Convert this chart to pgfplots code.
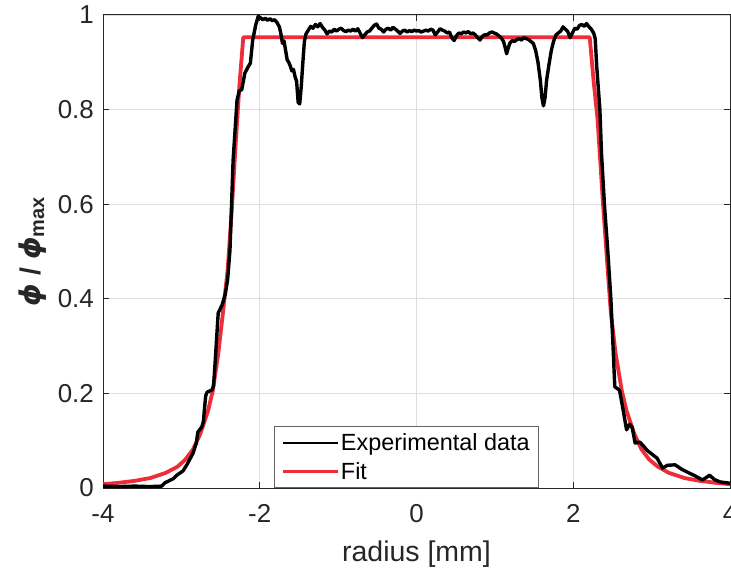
\documentclass[border=0pt]{standalone}
\usepackage{pgfplots}
\pgfplotsset{compat=1.18}
\usepackage{fontspec}
\setmainfont{Liberation Sans}
\newfontfamily\djv{DejaVu Sans}
\definecolor{axgray}{RGB}{38,38,38}
\definecolor{gridgray}{RGB}{222,222,222}
\definecolor{fitred}{RGB}{237,45,58}
\definecolor{leggray}{RGB}{100,100,100}

\pgfplotstableread{
x y
-4.00 0.008
-3.80 0.011
-3.60 0.015
-3.40 0.021
-3.20 0.032
-3.05 0.045
-2.95 0.060
-2.85 0.082
-2.76 0.114
-2.66 0.163
-2.60 0.205
-2.53 0.283
-2.47 0.370
-2.41 0.460
-2.36 0.580
-2.31 0.720
-2.26 0.850
-2.21 0.953
2.21 0.953
2.26 0.860
2.31 0.780
2.38 0.600
2.44 0.460
2.48 0.370
2.54 0.285
2.62 0.205
2.68 0.163
2.78 0.114
2.87 0.082
2.97 0.060
3.08 0.045
3.22 0.032
3.42 0.021
3.62 0.015
3.82 0.011
4.00 0.008
}\fitdata

\pgfplotstableread{
x y
-4.00 0.004
-3.80 0.003
-3.60 0.004
-3.40 0.003
-3.25 0.004
-3.21 0.011
-3.10 0.020
-3.06 0.027
-2.98 0.036
-2.93 0.049
-2.85 0.074
-2.81 0.095
-2.79 0.118
-2.74 0.129
-2.72 0.140
-2.69 0.195
-2.67 0.203
-2.61 0.207
-2.59 0.215
-2.57 0.264
-2.53 0.370
-2.48 0.387
-2.44 0.410
-2.41 0.440
-2.38 0.503
-2.34 0.693
-2.29 0.820
-2.26 0.840
-2.23 0.842
-2.19 0.877
-2.15 0.890
-2.12 0.898
-2.09 0.947
-2.05 0.980
-2.02 0.997
-1.99 0.994
-1.96 0.990
-1.93 0.993
-1.90 0.989
-1.87 0.992
-1.84 0.988
-1.81 0.990
-1.78 0.984
-1.75 0.975
-1.73 0.960
-1.71 0.940
-1.69 0.945
-1.67 0.925
-1.65 0.905
-1.63 0.900
-1.61 0.892
-1.59 0.882
-1.57 0.885
-1.55 0.870
-1.53 0.860
-1.51 0.815
-1.49 0.812
-1.47 0.850
-1.45 0.900
-1.43 0.945
-1.41 0.960
-1.38 0.968
-1.35 0.976
-1.32 0.972
-1.29 0.980
-1.26 0.975
-1.23 0.982
-1.20 0.974
-1.17 0.968
-1.14 0.960
-1.11 0.966
-1.08 0.964
-1.05 0.970
-1.02 0.966
-0.99 0.970
-0.96 0.972
-0.93 0.967
-0.90 0.965
-0.87 0.968
-0.84 0.966
-0.81 0.970
-0.78 0.966
-0.75 0.971
-0.72 0.962
-0.69 0.952
-0.66 0.958
-0.63 0.964
-0.60 0.966
-0.57 0.972
-0.54 0.978
-0.51 0.981
-0.48 0.972
-0.45 0.970
-0.42 0.964
-0.39 0.970
-0.36 0.972
-0.33 0.968
-0.30 0.974
-0.27 0.970
-0.24 0.966
-0.21 0.961
-0.18 0.966
-0.15 0.968
-0.12 0.964
-0.09 0.967
-0.06 0.965
-0.03 0.968
0.00 0.966
0.03 0.967
0.06 0.964
0.09 0.966
0.12 0.968
0.15 0.966
0.18 0.970
0.21 0.968
0.24 0.958
0.27 0.964
0.30 0.971
0.33 0.968
0.36 0.966
0.39 0.962
0.42 0.964
0.45 0.952
0.48 0.946
0.51 0.956
0.54 0.962
0.57 0.960
0.60 0.964
0.63 0.962
0.66 0.965
0.69 0.960
0.72 0.962
0.75 0.958
0.78 0.952
0.81 0.947
0.84 0.955
0.87 0.958
0.90 0.958
0.93 0.962
0.96 0.964
0.99 0.962
1.02 0.960
1.05 0.956
1.08 0.952
1.11 0.944
1.13 0.932
1.15 0.918
1.17 0.930
1.19 0.940
1.22 0.946
1.25 0.944
1.28 0.948
1.31 0.950
1.34 0.947
1.37 0.952
1.40 0.950
1.43 0.948
1.46 0.944
1.49 0.940
1.52 0.925
1.55 0.900
1.58 0.862
1.60 0.825
1.62 0.808
1.64 0.825
1.66 0.862
1.69 0.895
1.72 0.925
1.75 0.945
1.78 0.958
1.81 0.962
1.84 0.966
1.87 0.975
1.90 0.970
1.93 0.965
1.96 0.952
1.99 0.962
2.02 0.972
2.05 0.970
2.08 0.978
2.11 0.980
2.14 0.976
2.17 0.982
2.20 0.975
2.23 0.970
2.26 0.962
2.28 0.950
2.30 0.890
2.34 0.800
2.36 0.708
2.40 0.594
2.44 0.503
2.48 0.400
2.51 0.290
2.53 0.214
2.59 0.207
2.63 0.171
2.68 0.123
2.72 0.135
2.75 0.129
2.79 0.095
2.85 0.097
2.90 0.088
2.94 0.080
3.00 0.072
3.07 0.063
3.14 0.042
3.20 0.048
3.30 0.049
3.38 0.040
3.45 0.034
3.55 0.026
3.65 0.017
3.74 0.027
3.80 0.018
3.87 0.013
4.00 0.010
}\expdata

\begin{document}
\begin{tikzpicture}
\begin{axis}[
  scale only axis,
  width=627bp, height=473bp,
  xmin=-4, xmax=4, ymin=0, ymax=1,
  xtick={-4,-2,0,2,4},
  ytick={0,0.2,0.4,0.6,0.8,1},
  grid=major,
  major grid style={draw=gridgray, line width=0.8bp},
  axis line style={draw=axgray, line width=1bp},
  tick style={draw=axgray, line width=1bp},
  major tick length=6bp,
  tick align=inside,
  /pgf/number format/assume math mode=true,
  ticklabel style={font=\fontsize{26}{30}\selectfont, text=axgray, inner sep=0pt},
  xticklabel style={yshift=-16bp},
  yticklabel style={xshift=-9bp},
  xlabel={radius [mm]},
  xlabel style={font=\fontsize{28.6}{32}\selectfont, text=axgray, inner sep=0pt,
    at={(axis description cs:0.5,-0.169)}, anchor=south},
  ylabel={{\djv\bfseries\itshape ϕ} \textbf{/} {\djv\bfseries\itshape ϕ}\textsubscript{\bfseries\upshape max}},
  ylabel style={font=\fontsize{28.6}{32}\selectfont, text=axgray, inner sep=0pt,
    at={(axis description cs:-0.090,0.5)}, anchor=south},
  reverse legend,
  legend cell align=left,
  legend image code/.code={\draw[#1, line width=2.6bp] (0bp,0bp) -- (55bp,0bp);},
  legend style={at={(axis description cs:0.2727,0)}, anchor=south west,
    draw=leggray, line width=0.8bp, fill=white,
    font=\fontsize{23.5}{28}\selectfont, text=black,
    inner xsep=7bp, inner ysep=5bp, row sep=6bp},
]
\addplot[fitred, line width=3.8bp, line join=round] table[x=x,y=y] {\fitdata};
\addlegendentry{Fit}
\addplot[black, line width=3.4bp, line join=round] table[x=x,y=y] {\expdata};
\addlegendentry{Experimental data}
\end{axis}
\pgfresetboundingbox
\path ([shift={(-103bp,-82bp)}]current axis.south west) rectangle ([shift={(1bp,15bp)}]current axis.north east);
\end{tikzpicture}
\end{document}
